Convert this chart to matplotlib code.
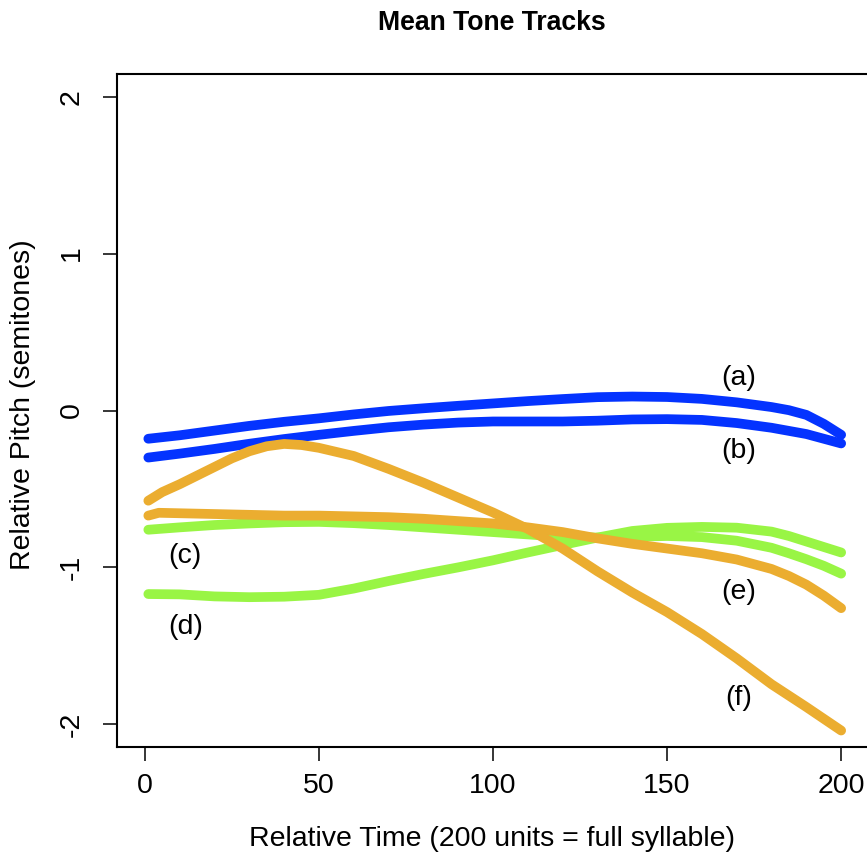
import matplotlib
matplotlib.use("Agg")
import matplotlib.pyplot as plt

plt.rcParams["font.family"] = ["Liberation Sans", "DejaVu Sans"]

# === DATOS ===
tiempo_a = [1, 10, 20, 30, 40, 50, 60, 70, 80, 90, 100, 110, 120, 130, 140,
            150, 160, 170, 180, 185, 190, 195, 200]
tono_a = [-0.18, -0.158, -0.128, -0.098, -0.072, -0.05, -0.025, -0.003, 0.014, 0.03, 0.045,
          0.06, 0.073, 0.085, 0.089, 0.086, 0.074, 0.052, 0.022, 0.002, -0.028, -0.085, -0.155]

tiempo_b = [1, 10, 20, 30, 40, 50, 60, 70, 80, 90, 100, 110, 120, 130, 140,
            150, 160, 170, 180, 185, 190, 195, 200]
tono_b = [-0.30, -0.275, -0.245, -0.212, -0.182, -0.155, -0.13, -0.107, -0.09, -0.077, -0.07,
          -0.07, -0.07, -0.065, -0.057, -0.055, -0.06, -0.08, -0.11, -0.13, -0.15, -0.18, -0.21]

tiempo_c = [1, 10, 20, 30, 40, 50, 60, 70, 80, 90, 100, 110, 120, 130, 140,
            150, 160, 170, 180, 185, 190, 195, 200]
tono_c = [-0.76, -0.745, -0.73, -0.72, -0.712, -0.71, -0.718, -0.73, -0.745, -0.76, -0.775,
          -0.79, -0.805, -0.81, -0.805, -0.80, -0.807, -0.83, -0.875, -0.91, -0.948, -0.99, -1.04]

tiempo_d = [1, 10, 20, 30, 40, 50, 60, 70, 80, 90, 100, 110, 120, 130, 140,
            150, 160, 170, 180, 185, 190, 195, 200]
tono_d = [-1.17, -1.172, -1.185, -1.19, -1.187, -1.175, -1.135, -1.087, -1.042, -1.0, -0.955,
          -0.905, -0.857, -0.81, -0.768, -0.748, -0.742, -0.747, -0.772, -0.80, -0.835, -0.87, -0.905]

tiempo_e = [1, 4, 10, 20, 30, 40, 50, 60, 70, 80, 90, 100, 110, 120, 130, 140,
            150, 160, 170, 180, 185, 190, 195, 200]
tono_e = [-0.67, -0.652, -0.655, -0.66, -0.665, -0.67, -0.67, -0.675, -0.68, -0.69, -0.705,
          -0.72, -0.745, -0.775, -0.815, -0.85, -0.88, -0.91, -0.95, -1.01, -1.055, -1.11,
          -1.18, -1.26]

tiempo_f = [1, 5, 10, 15, 20, 25, 30, 35, 40, 45, 50, 60, 70, 80, 90, 100, 110, 120,
            130, 140, 150, 160, 170, 180, 190, 200]
tono_f = [-0.575, -0.52, -0.47, -0.415, -0.36, -0.305, -0.26, -0.228, -0.213, -0.22, -0.238,
          -0.29, -0.372, -0.46, -0.555, -0.65, -0.755, -0.88, -1.025, -1.16, -1.285, -1.425,
          -1.58, -1.745, -1.89, -2.04]

etiquetas = ["(a)", "(b)", "(c)", "(d)", "(e)", "(f)"]
etiqueta_x = [170.7, 170.7, 11.6, 11.6, 170.7, 170.7]
etiqueta_y = [0.21, -0.26, -0.93, -1.38, -1.16, -1.83]

AZUL = "#0433FF"
VERDE = "#99F545"
NARANJA = "#EBAD30"

# === GRAFICAR ===
fig = plt.figure(figsize=(8.67, 8.52), dpi=100)
ax = fig.add_axes([117 / 867, 1 - 747 / 852, (869 - 117) / 867, (747 - 74) / 852])

series = [(tiempo_a, tono_a, AZUL), (tiempo_b, tono_b, AZUL),
          (tiempo_c, tono_c, VERDE), (tiempo_d, tono_d, VERDE),
          (tiempo_e, tono_e, NARANJA), (tiempo_f, tono_f, NARANJA)]
for xs, ys, color in series:
    ax.plot(xs, ys, color=color, lw=7, solid_capstyle="round",
            solid_joinstyle="round", clip_on=False)

for txt, tx, ty in zip(etiquetas, etiqueta_x, etiqueta_y):
    ax.text(tx, ty, txt, fontsize=20.5, ha="center", va="center")

ax.set_xlim(-8, 208)
ax.set_ylim(-2.145, 2.145)
ax.set_xticks([0, 50, 100, 150, 200])
ax.set_yticks([-2, -1, 0, 1, 2])
ax.set_yticklabels(["-2", "-1", "0", "1", "2"], rotation=90, va="center")
ax.tick_params(axis="both", direction="out", length=10, width=1.1, labelsize=20.5)
ax.tick_params(axis="x", pad=9)
ax.tick_params(axis="y", pad=13)
for s in ax.spines.values():
    s.set_linewidth(1.5)

fig.text(491.5 / 867, 1 - 30 / 852, "Mean Tone Tracks", fontsize=19.2,
         fontweight="bold", ha="center", va="baseline")
fig.text(492 / 867, 1 - 846 / 852, "Relative Time (200 units = full syllable)",
         fontsize=20.5, ha="center", va="baseline")
fig.text(23 / 867, 1 - 405 / 852, "Relative Pitch (semitones)", fontsize=20.5,
         rotation=90, ha="center", va="center")

fig.savefig("out.png", dpi=100)
plt.close(fig)
